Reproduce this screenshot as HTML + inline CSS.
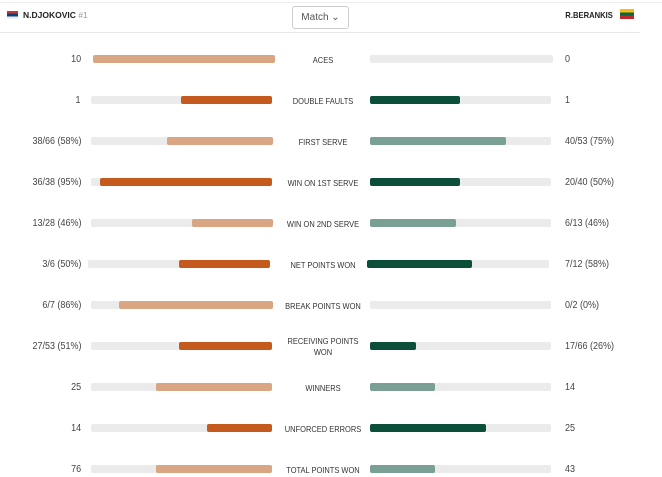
<!DOCTYPE html>
<html><head><style>
body{margin:0;width:662px;height:477px;background:#fff;font-family:"Liberation Sans",sans-serif;overflow:hidden;position:relative}
.a{position:absolute}
.l{position:absolute;right:581px;font-size:10px;color:#444;transform:scaleX(.9);transform-origin:right}
.r{position:absolute;left:565px;font-size:10px;color:#444;transform:scaleX(.9);transform-origin:left}
.c{position:absolute;left:253px;width:140px;text-align:center;font-size:8.5px;color:#333;line-height:11px;transform:scaleX(.88)}
.t{position:absolute;height:8px;background:#ebebeb;border-radius:2px}
.f{position:absolute;height:8px;border-radius:2px;top:0}
</style></head><body>
<div class="a" style="left:0;top:2px;width:662px;height:1px;background:#eee"></div>
<div class="a" style="left:0;top:32px;width:640px;height:1px;background:#e8e8e8"></div>
<div class="a" style="left:7px;top:11px;width:11px;height:8px;background:linear-gradient(#c6363c 33%,#0c4076 33% 66%,#eee 66%)"></div>
<div class="a" style="left:23px;top:10px;font-size:8.5px;font-weight:bold;color:#222">N.DJOKOVIC <span style="font-weight:normal;color:#999">#1</span></div>
<div class="a" style="left:292px;top:6px;width:55px;height:21px;border:1px solid #ccc;border-radius:3px;font-size:10px;color:#555;line-height:21px;text-align:center">Match &#8964;</div>
<div class="a" style="right:49px;top:10px;font-size:8.5px;font-weight:bold;color:#222;transform:scaleX(.9);transform-origin:right">R.BERANKIS</div>
<div class="a" style="left:620px;top:9px;width:14px;height:10px;background:linear-gradient(#fdb913 33%,#006a44 33% 66%,#c1272d 66%)"></div>
<div id="rows"></div>
<script>
var d=[["10","ACES","0",93,275,93,370,553,0],
["1","DOUBLE FAULTS","1",91,272,181,370,551,460,1],
["38/66 (58%)","FIRST SERVE","40/53 (75%)",91,273,167,370,551,506,0],
["36/38 (95%)","WIN ON 1ST SERVE","20/40 (50%)",91,272,100,370,551,460,1],
["13/28 (46%)","WIN ON 2ND SERVE","6/13 (46%)",91,273,192,370,551,456,0],
["3/6 (50%)","NET POINTS WON","7/12 (58%)",88,270,179,367,549,472,1],
["6/7 (86%)","BREAK POINTS WON","0/2 (0%)",91,273,119,370,551,0,0],
["27/53 (51%)","RECEIVING POINTS<br>WON","17/66 (26%)",91,272,179,370,551,416,1],
["25","WINNERS","14",91,272,156,370,551,435,0],
["14","UNFORCED ERRORS","25",91,272,207,370,551,486,1],
["76","TOTAL POINTS WON","43",91,272,156,370,551,435,0]];
var h="";
d.forEach(function(r,i){var y=59+i*41;var dk=r[9];
var lc=dk?"#c55a1e":"#d9a583",rc=dk?"#0b4f3a":"#7a9f94";
h+='<div class="l" style="top:'+(y-5)+'px">'+r[0]+'</div>';
h+='<div class="r" style="top:'+(y-5)+'px">'+r[2]+'</div>';
var two=r[1].indexOf("<br>")>0;
h+='<div class="c" style="top:'+(y-(two?10:4))+'px">'+r[1]+'</div>';
h+='<div class="t" style="left:'+r[3]+'px;width:'+(r[4]-r[3])+'px;top:'+(y-4)+'px"><div class="f" style="left:'+(r[5]-r[3])+'px;right:0;background:'+lc+'"></div></div>';
h+='<div class="t" style="left:'+r[6]+'px;width:'+(r[7]-r[6])+'px;top:'+(y-4)+'px">'+(r[8]?'<div class="f" style="left:0;width:'+(r[8]-r[6])+'px;background:'+rc+'"></div>':'')+'</div>';
});
document.getElementById("rows").innerHTML=h;
</script>
</body></html>
